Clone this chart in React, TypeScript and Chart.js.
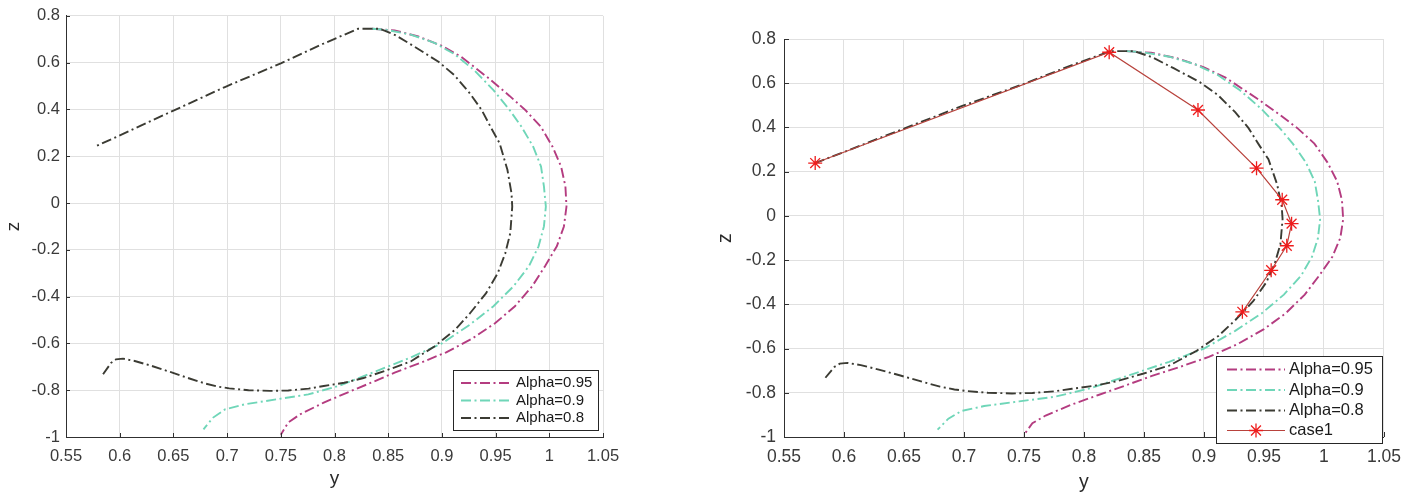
import React, { useEffect, useRef } from "react";
import { Chart, registerables } from "chart.js";

Chart.register(...registerables);

// ---------- data ----------
const alpha095Y = [0.835, 0.856, 0.878, 0.9, 0.918, 0.9445, 0.963, 0.9776, 0.992, 1.003, 1.011, 1.015, 1.016, 1.0136, 1.007, 0.996, 0.984, 0.968, 0.95, 0.928, 0.904, 0.88, 0.856, 0.834, 0.812, 0.79, 0.768, 0.757, 0.75];
const alpha095Z = [0.745, 0.738, 0.712, 0.672, 0.625, 0.53, 0.458, 0.398, 0.327, 0.241, 0.156, 0.071, -0.015, -0.1, -0.185, -0.27, -0.356, -0.441, -0.512, -0.58, -0.638, -0.683, -0.725, -0.768, -0.81, -0.853, -0.903, -0.938, -0.99];

const alpha09Y = [0.835, 0.849, 0.871, 0.893, 0.9115, 0.93, 0.948, 0.963, 0.974, 0.985, 0.9923, 0.995, 0.9968, 0.995, 0.99, 0.981, 0.9666, 0.948, 0.926, 0.9, 0.871, 0.838, 0.805, 0.7756, 0.746, 0.7168, 0.698, 0.687, 0.678];
const alpha09Z = [0.745, 0.74, 0.72, 0.685, 0.637, 0.568, 0.483, 0.398, 0.327, 0.241, 0.156, 0.071, -0.015, -0.1, -0.185, -0.27, -0.356, -0.441, -0.52, -0.6, -0.66, -0.72, -0.78, -0.818, -0.839, -0.86, -0.882, -0.917, -0.967];

const alpha08Y = [0.5845, 0.592, 0.5965, 0.603, 0.614, 0.629, 0.647, 0.665, 0.68, 0.692, 0.702, 0.72, 0.74, 0.757, 0.776, 0.79, 0.809, 0.827, 0.849, 0.871, 0.893, 0.912, 0.926, 0.941, 0.952, 0.959, 0.9637, 0.9655, 0.9648, 0.961, 0.9537, 0.946, 0.937, 0.926, 0.9115, 0.8968, 0.8747, 0.8566, 0.842, 0.822, 0.79, 0.75, 0.698, 0.649, 0.599, 0.576];
const alpha08Z = [-0.732, -0.683, -0.668, -0.665, -0.675, -0.695, -0.722, -0.75, -0.772, -0.785, -0.792, -0.8, -0.803, -0.801, -0.793, -0.782, -0.768, -0.748, -0.714, -0.677, -0.613, -0.543, -0.472, -0.386, -0.3, -0.215, -0.128, -0.015, 0.042, 0.142, 0.256, 0.32, 0.398, 0.469, 0.547, 0.604, 0.668, 0.718, 0.745, 0.745, 0.682, 0.597, 0.496, 0.393, 0.287, 0.239];

const case1Y = [0.576, 0.821, 0.895, 0.9438, 0.9652, 0.973, 0.969, 0.956, 0.932];
const case1Z = [0.239, 0.74, 0.479, 0.216, 0.073, -0.035, -0.135, -0.246, -0.434];

const xTicks = [0.55, 0.6, 0.65, 0.7, 0.75, 0.8, 0.85, 0.9, 0.95, 1, 1.05];
const zTicks = [-1, -0.8, -0.6, -0.4, -0.2, 0, 0.2, 0.4, 0.6, 0.8];

const seriesLabels = ["Alpha=0.95", "Alpha=0.9", "Alpha=0.8", "case1"];

// ---------- styles ----------
const FONT = "'Liberation Sans', Arial, Helvetica, sans-serif";
const C095 = "#b43c80";
const C09 = "#6fd6b8";
const C08 = "#3b3b33";
const CASE_LINE = "#b8423c";
const CASE_MARK = "#ee1c1c";
const DASHDOT = [10, 3.5, 2, 3.5];

const toPts = (xs: number[], ys: number[]) => xs.map((x, i) => ({ x, y: ys[i] }));

function curveDataset(label: string, xs: number[], ys: number[], color: string, order: number) {
  return {
    label,
    data: toPts(xs, ys),
    showLine: true,
    borderColor: color,
    backgroundColor: color,
    borderWidth: 1.9,
    borderDash: DASHDOT,
    pointRadius: 0,
    pointHoverRadius: 0,
    tension: 0,
    order,
  };
}

function drawStar(ctx: CanvasRenderingContext2D, x: number, y: number, r: number, color: string, w: number) {
  ctx.save();
  ctx.strokeStyle = color;
  ctx.lineWidth = w;
  ctx.beginPath();
  ctx.moveTo(x - r, y);
  ctx.lineTo(x + r, y);
  ctx.moveTo(x, y - r);
  ctx.lineTo(x, y + r);
  const d = r * Math.SQRT1_2;
  ctx.moveTo(x - d, y - d);
  ctx.lineTo(x + d, y + d);
  ctx.moveTo(x - d, y + d);
  ctx.lineTo(x + d, y - d);
  ctx.stroke();
  ctx.restore();
}

const decorPlugin = {
  id: "decor",
  afterDraw(chart: any, _args: any, opts: any) {
    const ctx: CanvasRenderingContext2D = chart.ctx;
    const { left, bottom } = chart.chartArea;
    const xs = chart.scales.x;
    const ys = chart.scales.y;
    ctx.save();
    ctx.strokeStyle = opts.axisColor;
    ctx.lineWidth = 1;
    ctx.beginPath();
    xs.ticks.forEach((t: any) => {
      const px = Math.round(xs.getPixelForValue(t.value)) + 0.5;
      ctx.moveTo(px, bottom);
      ctx.lineTo(px, bottom - opts.tickLen);
    });
    ys.ticks.forEach((t: any) => {
      const py = Math.round(ys.getPixelForValue(t.value)) + 0.5;
      ctx.moveTo(left, py);
      ctx.lineTo(left + opts.tickLen, py);
    });
    ctx.stroke();

    const lg = opts.legend;
    ctx.fillStyle = "#ffffff";
    ctx.fillRect(lg.x1, lg.y1, lg.x2 - lg.x1, lg.y2 - lg.y1);
    ctx.strokeStyle = "#262626";
    ctx.lineWidth = 1;
    ctx.strokeRect(lg.x1 + 0.5, lg.y1 + 0.5, lg.x2 - lg.x1, lg.y2 - lg.y1);
    chart.data.datasets.forEach((ds: any, i: number) => {
      const y = lg.rows[i];
      ctx.save();
      ctx.strokeStyle = ds.borderColor;
      ctx.lineWidth = ds.borderWidth;
      ctx.setLineDash(ds.borderDash || []);
      ctx.beginPath();
      ctx.moveTo(lg.s1, y);
      ctx.lineTo(lg.s2, y);
      ctx.stroke();
      ctx.setLineDash([]);
      if (ds.pointRadius > 0) {
        drawStar(ctx, (lg.s1 + lg.s2) / 2, y, ds.pointRadius, ds.pointBorderColor, ds.pointBorderWidth);
      }
      ctx.restore();
      ctx.fillStyle = "#1a1a1a";
      ctx.font = `${lg.fontSize}px ${FONT}`;
      ctx.textBaseline = "middle";
      ctx.textAlign = "left";
      ctx.fillText(ds.label, lg.tx, y);
    });
    ctx.restore();
  },
};

function makeConfig(p: any, withCase: boolean) {
  const datasets: any[] = [
    curveDataset(seriesLabels[0], alpha095Y, alpha095Z, C095, 3),
    curveDataset(seriesLabels[1], alpha09Y, alpha09Z, C09, 2),
    curveDataset(seriesLabels[2], alpha08Y, alpha08Z, C08, 1),
  ];
  if (withCase) {
    datasets.push({
      label: seriesLabels[3],
      data: toPts(case1Y, case1Z),
      showLine: true,
      borderColor: CASE_LINE,
      backgroundColor: CASE_MARK,
      borderWidth: 1.2,
      pointStyle: "star",
      pointRadius: 7,
      pointBorderColor: CASE_MARK,
      pointBorderWidth: 1.3,
      pointHoverRadius: 7,
      tension: 0,
      order: 0,
    });
  }
  const tickColor = "#3a3a3a";
  return {
    type: "scatter",
    data: { datasets },
    options: {
      responsive: false,
      animation: false,
      events: [],
      layout: { padding: { left: 0, right: p.padRight, top: p.padTop, bottom: 0 } },
      plugins: {
        legend: { display: false },
        tooltip: { enabled: false },
        decor: { axisColor: "#303030", tickLen: p.tickLen, legend: p.legend },
      },
      scales: {
        x: {
          type: "linear",
          min: 0.55,
          max: 1.05,
          afterBuildTicks: (s: any) => { s.ticks = xTicks.map((value) => ({ value })); },
          afterFit: (s: any) => { s.height = p.xAxisH; },
          ticks: {
            autoSkip: false,
            maxRotation: 0,
            color: tickColor,
            padding: p.xTickPad,
            font: { family: FONT, size: p.tickFont },
            callback: (v: any) => String(v),
          },
          grid: { color: "#e0e0e0", lineWidth: 1, drawTicks: false },
          border: { display: true, color: "#303030", width: 1 },
          title: {
            display: true,
            text: "y",
            color: "#2a2a2a",
            font: { family: FONT, size: p.titleFont },
            padding: { top: 0, bottom: p.xTitlePadBottom },
          },
        },
        y: {
          type: "linear",
          min: -1,
          max: 0.8,
          afterBuildTicks: (s: any) => { s.ticks = zTicks.map((value) => ({ value })); },
          afterFit: (s: any) => { s.width = p.yAxisW; },
          ticks: {
            autoSkip: false,
            color: tickColor,
            padding: p.yTickPad,
            font: { family: FONT, size: p.tickFont },
            callback: (v: any) => String(v),
          },
          grid: { color: "#e0e0e0", lineWidth: 1, drawTicks: false },
          border: { display: true, color: "#303030", width: 1 },
          title: {
            display: true,
            text: "z",
            color: "#2a2a2a",
            font: { family: FONT, size: p.titleFont },
            padding: { top: p.yTitlePadTop, bottom: 0 },
          },
        },
      },
    },
    plugins: [decorPlugin],
  };
}

const leftParams = {
  padRight: 97,
  padTop: 15,
  yAxisW: 66,
  xAxisH: 64,
  tickFont: 16.5,
  titleFont: 19,
  xTickPad: 10,
  yTickPad: 6,
  xTitlePadBottom: 11,
  yTitlePadTop: 2,
  tickLen: 4,
  legend: { x1: 453, y1: 370, x2: 598, y2: 430, rows: [383, 400.5, 418], s1: 461, s2: 511, tx: 516, fontSize: 15 },
};

const rightParams = {
  padRight: 24,
  padTop: 39,
  yAxisW: 84,
  xAxisH: 64,
  tickFont: 17.5,
  titleFont: 19.5,
  xTickPad: 10,
  yTickPad: 8,
  xTitlePadBottom: 7,
  yTitlePadTop: 14,
  tickLen: 5,
  legend: { x1: 516, y1: 356, x2: 682, y2: 443, rows: [369.5, 390, 410.5, 430.5], s1: 527, s2: 585, tx: 589, fontSize: 16.5 },
};

function ChartCanvas({ params, withCase, left, width }: { params: any; withCase: boolean; left: number; width: number }) {
  const ref = useRef<HTMLCanvasElement | null>(null);
  useEffect(() => {
    if (!ref.current) return;
    const chart = new Chart(ref.current, makeConfig(params, withCase) as any);
    return () => chart.destroy();
  }, []);
  return (
    <canvas
      ref={ref}
      width={width}
      height={501}
      style={{ position: "absolute", left, top: 0, width, height: 501, display: "block" }}
    />
  );
}

export default function App() {
  return (
    <div style={{ position: "absolute", left: 0, top: 0, width: 1411, height: 501, background: "#ffffff", overflow: "hidden" }}>
      <ChartCanvas params={leftParams} withCase={false} left={0} width={700} />
      <ChartCanvas params={rightParams} withCase={true} left={700} width={711} />
    </div>
  );
}
